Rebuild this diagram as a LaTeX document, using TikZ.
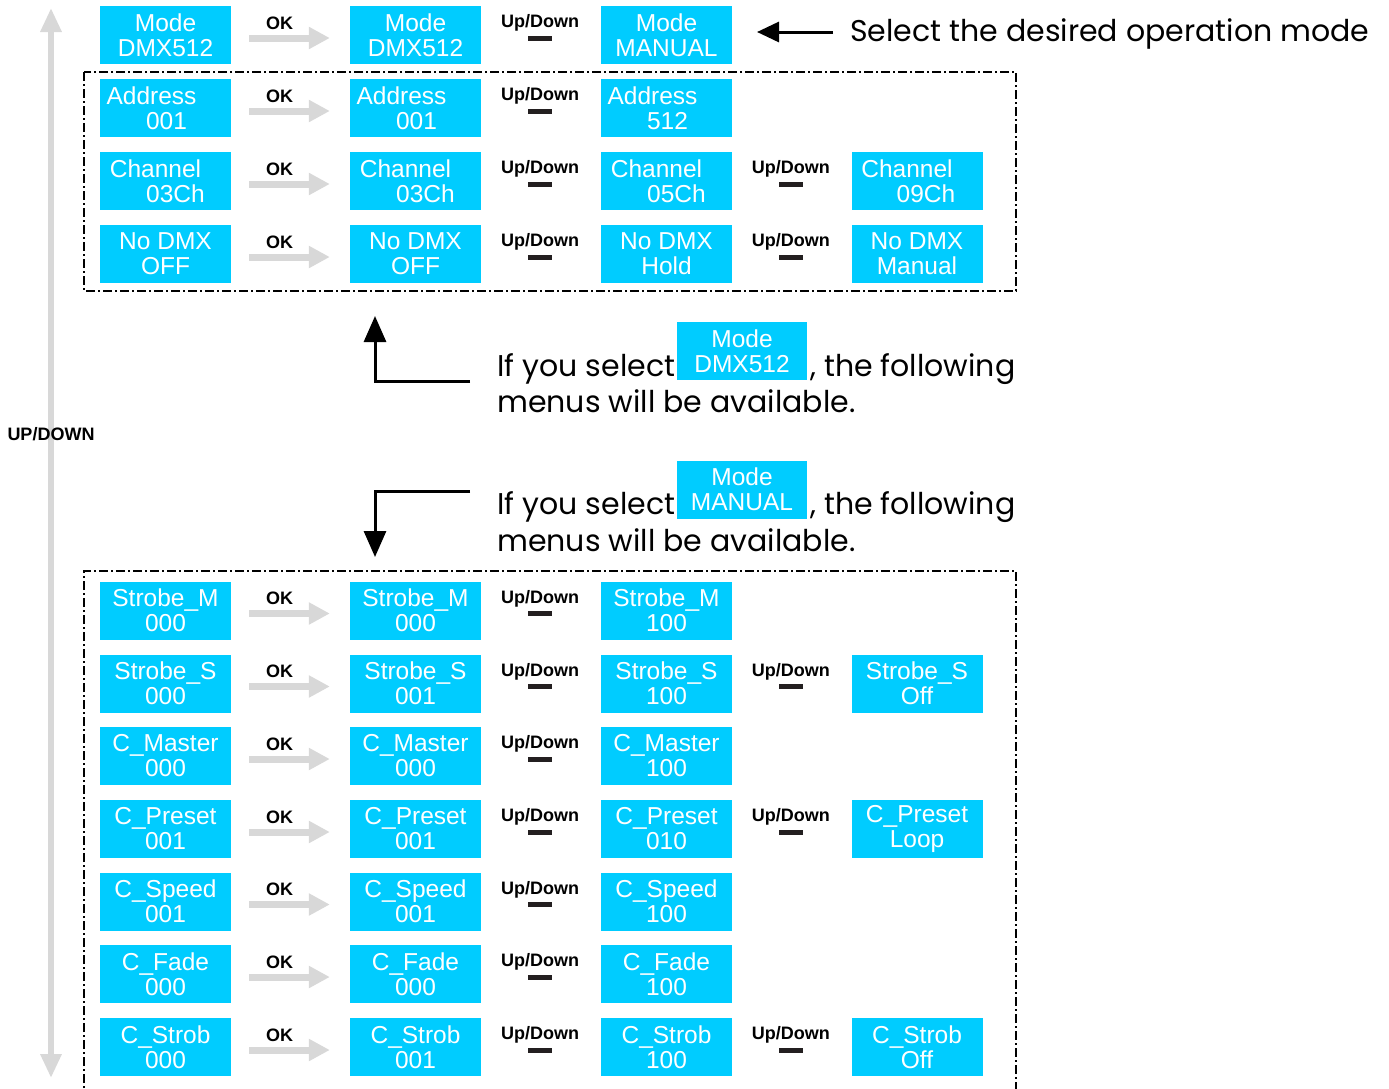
\documentclass[tikz,border=0pt]{standalone}
\usepackage{fontspec}
\setmainfont{Liberation Sans}
\newfontfamily\gothic{Poppins}
\usetikzlibrary{arrows.meta,calc}
\definecolor{cyanbox}{RGB}{0,204,255}
\definecolor{lgray}{RGB}{216,216,216}
\definecolor{barblack}{RGB}{35,31,32}
\newcommand{\ctr}[2]{\makebox[0pt]{\hspace*{#1}#2}}
\newcommand{\bx}[6]{\node[menubox] (#1) at (#2) {\ctr{#3}{#4}\\\ctr{#5}{#6}};}
\newcommand{\okstep}[2]{%
  \draw[okarrow] ([yshift=-3pt]#1.east) -- ([yshift=-3pt]#2.west);
  \node[lbl] (#1-ok) at ($(#1.east)!0.5!(#2.west)+(-11,-12)$) {OK};}
\newcommand{\udstep}[2]{%
  \node[lbl] (#1-ud) at ($(#1.east)!0.5!(#2.west)+(-1,-12)$) {Up/Down};
  \node[udbar] (#1-bar) at ($(#1.east)!0.5!(#2.west)+(-1,3)$) {};}
\begin{document}
\begin{tikzpicture}[x=1pt,y=-1pt,
  menubox/.style={fill=cyanbox, draw=none, minimum width=131pt, minimum height=58pt,
    inner sep=0pt, text=white, font=\fontsize{24.5}{25}\selectfont, align=center},
  lbl/.style={font=\bfseries\fontsize{18}{20}\selectfont, inner sep=0pt},
  okarrow/.style={draw=lgray, line width=7pt, -{Triangle[length=21pt,width=21pt]},
    shorten <=18pt, shorten >=20pt},
  udbar/.style={fill=barblack, minimum width=24pt, minimum height=5pt, inner sep=0pt},
  frame/.style={draw=black, line width=1.8pt, dash pattern=on 9pt off 3pt on 2pt off 3pt},
  gtext/.style={font=\gothic\fontsize{30}{32}\selectfont, inner sep=0pt},
  blk/.style={draw=black, line width=3pt, line join=miter, -{Triangle[length=26pt,width=22pt]}}
]
\useasboundingbox (0,0) rectangle (1389,1088);
\fill[white] (0,0) rectangle (1389,1088);

% left up/down arrow
\coordinate (vtop) at (51,8);
\coordinate (vbot) at (51,1078);
\draw[lgray, line width=6pt, {Triangle[length=24pt,width=20pt]}-{Triangle[length=24pt,width=20pt]}] (vtop) -- (vbot);
\node[lbl] (updown) at (51,434) {UP/DOWN};

% frames
\draw[frame] (84,72) rectangle (1016,291);
\draw[frame] (84,1100) -- (84,571) -- (1016,571) -- (1016,1100);

% top row
\bx{m1}{165.5,35}{0pt}{Mode}{0pt}{DMX512}
\bx{m2}{415.5,35}{0pt}{Mode}{0pt}{DMX512}
\bx{m3}{666.5,35}{0pt}{Mode}{0pt}{MANUAL}
\okstep{m1}{m2}
\udstep{m2}{m3}
\node[gtext, anchor=base west] (seltxt) at (850,41) {Select the desired operation mode};
\coordinate (selend) at (757,32);
\draw[draw=black, line width=3pt, -{Triangle[length=22pt,width=20pt]}] (833,32) -- (selend);

% DMX menus
\bx{a1}{165.5,108}{-28pt}{Address}{2pt}{001}
\bx{a2}{415.5,108}{-28pt}{Address}{2pt}{001}
\bx{a3}{666.5,108}{-28pt}{Address}{2pt}{512}
\okstep{a1}{a2}
\udstep{a2}{a3}

\bx{c1}{165.5,181}{-20pt}{Channel}{20pt}{03Ch}
\bx{c2}{415.5,181}{-20pt}{Channel}{20pt}{03Ch}
\bx{c3}{666.5,181}{-20pt}{Channel}{20pt}{05Ch}
\bx{c4}{917,181}{-20pt}{Channel}{18pt}{09Ch}
\okstep{c1}{c2}
\udstep{c2}{c3}
\udstep{c3}{c4}

\bx{n1}{165.5,254}{0pt}{No DMX}{0pt}{OFF}
\bx{n2}{415.5,254}{0pt}{No DMX}{0pt}{OFF}
\bx{n3}{666.5,254}{0pt}{No DMX}{0pt}{Hold}
\bx{n4}{917,254}{0pt}{No DMX}{0pt}{Manual}
\okstep{n1}{n2}
\udstep{n2}{n3}
\udstep{n3}{n4}

% middle explanations
\node[gtext, anchor=base west] (if1) at (497,376) {If you select};
\node[menubox, minimum width=130pt] (mb1) at (742,351) {Mode\\DMX512};
\node[gtext, anchor=base west] (fol1) at (810,376) {, the following};
\node[gtext, anchor=base west] (menu1) at (497,412) {menus will be available.};
\coordinate (h1) at (470,381);
\coordinate (corner1) at (375,381);
\coordinate (tip1) at (375,316);
\draw[blk] (h1) -- (corner1) -- (tip1);

\node[gtext, anchor=base west] (if2) at (497,514) {If you select};
\node[menubox, minimum width=130pt] (mb2) at (742,489.5) {Mode\\MANUAL};
\node[gtext, anchor=base west] (fol2) at (810,514) {, the following};
\node[gtext, anchor=base west] (menu2) at (497,551) {menus will be available.};
\coordinate (h2) at (470,491);
\coordinate (corner2) at (375,491);
\coordinate (tip2) at (375,557);
\draw[blk] (h2) -- (corner2) -- (tip2);

% manual menus
\bx{s1}{165.5,610.5}{0pt}{Strobe\_M}{0pt}{000}
\bx{s2}{415.5,610.5}{0pt}{Strobe\_M}{0pt}{000}
\bx{s3}{666.5,610.5}{0pt}{Strobe\_M}{0pt}{100}
\okstep{s1}{s2}
\udstep{s2}{s3}

\bx{t1}{165.5,683.5}{0pt}{Strobe\_S}{0pt}{000}
\bx{t2}{415.5,683.5}{0pt}{Strobe\_S}{0pt}{001}
\bx{t3}{666.5,683.5}{0pt}{Strobe\_S}{0pt}{100}
\bx{t4}{917,683.5}{0pt}{Strobe\_S}{0pt}{Off}
\okstep{t1}{t2}
\udstep{t2}{t3}
\udstep{t3}{t4}

\bx{cm1}{165.5,756}{0pt}{C\_Master}{0pt}{000}
\bx{cm2}{415.5,756}{0pt}{C\_Master}{0pt}{000}
\bx{cm3}{666.5,756}{0pt}{C\_Master}{0pt}{100}
\okstep{cm1}{cm2}
\udstep{cm2}{cm3}

\bx{cp1}{165.5,829}{0pt}{C\_Preset}{0pt}{001}
\bx{cp2}{415.5,829}{0pt}{C\_Preset}{0pt}{001}
\bx{cp3}{666.5,829}{0pt}{C\_Preset}{0pt}{010}
\bx{cp4}{917,829}{0pt}{C\_Preset}{0pt}{Loop}
\okstep{cp1}{cp2}
\udstep{cp2}{cp3}
\udstep{cp3}{cp4}

\bx{cs1}{165.5,901.5}{0pt}{C\_Speed}{0pt}{001}
\bx{cs2}{415.5,901.5}{0pt}{C\_Speed}{0pt}{001}
\bx{cs3}{666.5,901.5}{0pt}{C\_Speed}{0pt}{100}
\okstep{cs1}{cs2}
\udstep{cs2}{cs3}

\bx{cf1}{165.5,974}{0pt}{C\_Fade}{0pt}{000}
\bx{cf2}{415.5,974}{0pt}{C\_Fade}{0pt}{000}
\bx{cf3}{666.5,974}{0pt}{C\_Fade}{0pt}{100}
\okstep{cf1}{cf2}
\udstep{cf2}{cf3}

\bx{cb1}{165.5,1047}{0pt}{C\_Strob}{0pt}{000}
\bx{cb2}{415.5,1047}{0pt}{C\_Strob}{0pt}{001}
\bx{cb3}{666.5,1047}{0pt}{C\_Strob}{0pt}{100}
\bx{cb4}{917,1047}{0pt}{C\_Strob}{0pt}{Off}
\okstep{cb1}{cb2}
\udstep{cb2}{cb3}
\udstep{cb3}{cb4}
\end{tikzpicture}
\end{document}
